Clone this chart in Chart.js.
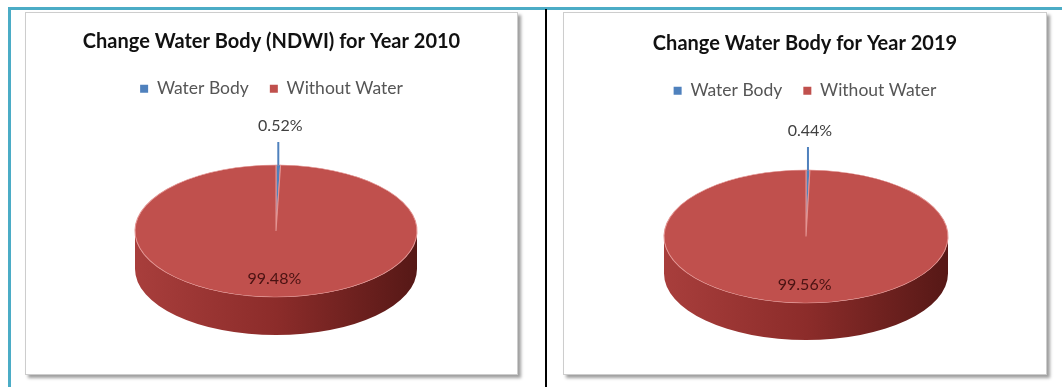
<!DOCTYPE html>
<html>
<head>
<meta charset="utf-8">
<script src="https://cdn.jsdelivr.net/npm/chart.js@4.4.1/dist/chart.umd.min.js"></script>
<style>
  html, body { margin: 0; padding: 0; background: #fff; }
  body { width: 1062px; height: 387px; position: relative; overflow: hidden; }
  .rule { position: absolute; }
  .rule.cyan-top { left: 8px; top: 7px; width: 1054px; height: 3px; background: #4bacc6; }
  .rule.cyan-left { left: 8px; top: 7px; width: 3px; height: 380px; background: #4bacc6; }
  .rule.black { left: 545px; top: 9px; width: 2px; height: 378px; background: #000; }
  .box {
    position: absolute; top: 12px; height: 361px; background: #fff;
    border: 1px solid #cdcdcd; box-shadow: 3px 3px 3px rgba(0,0,0,0.38);
  }
  #box-2010 { left: 25px; width: 491px; }
  #box-2019 { left: 563px; width: 482px; }
  canvas { display: block; }
</style>
</head>
<body>
<div class="rule cyan-top"></div>
<div class="rule cyan-left"></div>
<div class="rule black"></div>
<div class="box" id="box-2010"><canvas id="chart-2010" width="491" height="361"></canvas></div>
<div class="box" id="box-2019"><canvas id="chart-2019" width="482" height="361"></canvas></div>

<script>
// data
const categories = ['Water Body', 'Without Water'];
const values2010 = [0.52, 99.48];
const values2019 = [0.44, 99.56];
const title2010 = 'Change Water Body (NDWI) for Year 2010';
const title2019 = 'Change Water Body for Year 2019';

(() => {
  const COLORS = ['#4f81bd', '#c0504d'];

  Chart.defaults.font.family = 'Lato, "Open Sans", sans-serif';

  function pct(v) {
    return Number(v).toFixed(2) + '%';
  }

  // flattens the pie into an ellipse and adds a front wall, like the Excel 3D pie
  const pie3d = {
    id: 'pie3d',
    beforeDatasetsDraw(chart, args, opts) {
      const arcs = chart.getDatasetMeta(0).data;
      if (!arcs.length) return;
      const { ctx } = chart;
      const a0 = arcs[0];
      const R = a0.outerRadius;
      const { cx, cy, rx, ry, depth } = opts;

      // side wall (only the front half can be seen)
      const grad = ctx.createLinearGradient(cx - rx, 0, cx + rx, 0);
      grad.addColorStop(0, '#a83e3c');
      grad.addColorStop(0.5, '#8c2c2a');
      grad.addColorStop(1, '#561816');
      arcs.forEach((arc, i) => {
        const from = Math.max(arc.startAngle, 0), to = Math.min(arc.endAngle, Math.PI);
        if (to <= from) return;
        ctx.save();
        ctx.beginPath();
        ctx.ellipse(cx, cy, rx, ry, 0, from, to);
        ctx.ellipse(cx, cy + depth, rx, ry, 0, to, from, true);
        ctx.closePath();
        ctx.fillStyle = i === 0 ? '#2f5a8a' : grad;
        ctx.fill();
        ctx.restore();
      });

      ctx.save();
      ctx.translate(cx, cy);
      ctx.scale(rx / R, ry / R);
      ctx.translate(-a0.x, -a0.y);
    },
    afterDatasetsDraw(chart, args, opts) {
      const arcs = chart.getDatasetMeta(0).data;
      if (!arcs.length) return;
      const { ctx } = chart;
      ctx.restore();

      const { cx, cy, rx, ry } = opts;
      const values = chart.data.datasets[0].data;
      ctx.save();
      ctx.font = '16px Lato, "Open Sans", sans-serif';
      ctx.textAlign = 'center';
      ctx.textBaseline = 'middle';
      arcs.forEach((arc, i) => {
        const mid = (arc.startAngle + arc.endAngle) / 2;
        const text = pct(values[i]);
        if (arc.endAngle - arc.startAngle < 0.3) {
          // small slice: label outside with a leader line
          const px = cx + rx * Math.cos(mid);
          const py = cy + ry * Math.sin(mid);
          ctx.strokeStyle = COLORS[i];
          ctx.lineWidth = 2;
          ctx.beginPath();
          ctx.moveTo(px, py - 23);
          ctx.lineTo(px, py);
          ctx.stroke();
          ctx.fillStyle = '#404040';
          ctx.fillText(text, px + 2, py - 39);
        } else {
          ctx.fillStyle = '#4a1212';
          ctx.fillText(text, cx + rx * 0.7 * Math.cos(mid), cy + 2 + ry * 0.7 * Math.sin(mid));
        }
      });
      ctx.restore();
    }
  };

  function drawPie(id, title, values, ellipse, titleTop) {
    const el = document.getElementById(id);
    if (!el || !window.Chart) return;

    new Chart(el, {
      type: 'pie',
      data: {
        labels: categories,
        datasets: [{
          data: values,
          backgroundColor: COLORS,
          borderColor: '#e39492',
          borderWidth: 1
        }]
      },
      options: {
        responsive: false,
        animation: false,
        devicePixelRatio: 1,
        events: [],
        plugins: {
          title: {
            display: true,
            text: title,
            color: '#111',
            font: { size: 20, weight: 'bold' },
            padding: { top: titleTop, bottom: 5 }
          },
          legend: {
            position: 'top',
            labels: {
              boxWidth: 8, boxHeight: 8, padding: 21,
              color: '#555', font: { size: 17.5 },
              generateLabels(chart) {
                return Chart.overrides.pie.plugins.legend.labels.generateLabels(chart)
                  .map(l => Object.assign(l, { lineWidth: 0, strokeStyle: l.fillStyle }));
              }
            }
          },
          tooltip: { enabled: false },
          pie3d: ellipse
        }
      },
      plugins: [pie3d]
    });
  }

  const boot = () => {
    drawPie('chart-2010', title2010, values2010, { cx: 250, cy: 218, rx: 141, ry: 66, depth: 38 }, 17);
    drawPie('chart-2019', title2019, values2019, { cx: 242, cy: 223.5, rx: 142, ry: 66.5, depth: 37 }, 19);
  };

  document.addEventListener('DOMContentLoaded', boot);
})();
</script>
</body>
</html>
